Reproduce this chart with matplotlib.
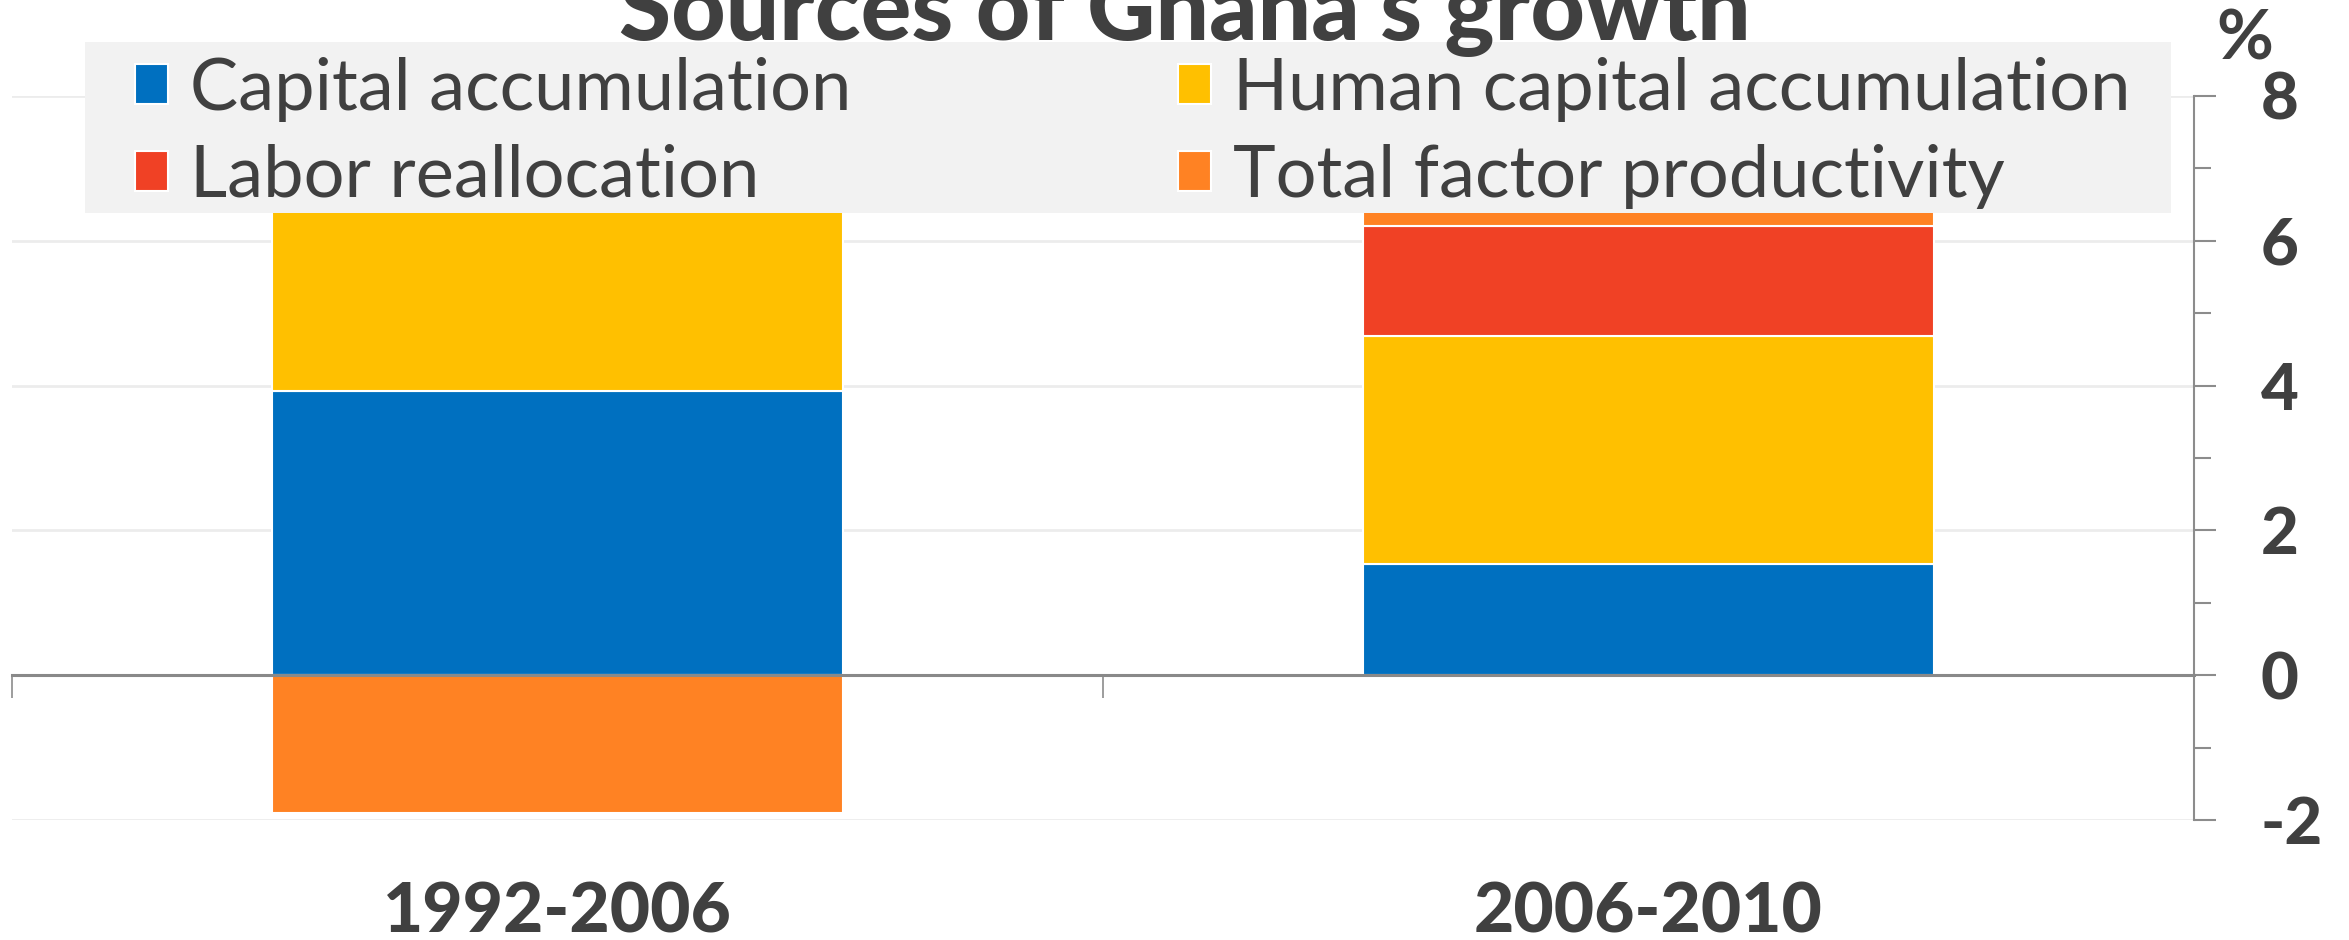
import numpy as np
import matplotlib
matplotlib.use("Agg")
import matplotlib.pyplot as plt
from matplotlib.patches import Rectangle

plt.rcParams["font.family"] = ["Lato", "DejaVu Sans"]
plt.rcParams["axes.unicode_minus"] = False

# data (percentage points of growth)
periods = ["1992-2006", "2006-2010"]
series = ["Capital accumulation", "Human capital accumulation",
          "Labor reallocation", "Total factor productivity"]
capital = [3.92, 1.53]
human_capital = [2.6, 3.15]
labor = [0.3, 1.52]
tfp = [-1.9, 0.3]
colors = ["#0070c0", "#ffc000", "#f04125", "#ff8223"]

TEXT = "#404040"
AXIS = "#8c8c8c"
W, H = 2349, 940

fig = plt.figure(figsize=(W / 100, H / 100), dpi=100)
ax = fig.add_axes([12 / W, 1 - 820 / H, (2194 - 12) / W, (820 - 96) / H])

x = np.arange(len(periods))
pos = np.zeros(len(periods))
neg = np.zeros(len(periods))
for name, vals, c in zip(series, [capital, human_capital, labor, tfp], colors):
    vals = np.array(vals)
    bottom = np.where(vals >= 0, pos, neg)
    ax.bar(x, vals, 0.524, bottom=bottom, color=c, edgecolor="white",
           linewidth=1.5, label=name, zorder=2)
    pos = pos + np.clip(vals, 0, None)
    neg = neg + np.clip(vals, None, 0)

ax.set_xlim(-0.5, 1.5)
ax.set_ylim(-2, 8)

# right-hand value axis
ax.yaxis.tick_right()
ax.set_yticks(range(-2, 9, 2))
ax.set_yticks(range(-1, 8, 2), minor=True)
ax.tick_params(axis="y", which="major", length=16, width=1.5, color=AXIS,
               pad=32, labelsize=47, labelcolor=TEXT)
ax.tick_params(axis="y", which="minor", length=12, width=1.5, color=AXIS)
for lab in ax.get_yticklabels():
    lab.set_fontweight("black")

# category boundaries on the zero line
ax.set_xticks([-0.5, 0.5, 1.5])
ax.set_xticklabels([])
ax.tick_params(axis="x", length=16.5, width=1.2, color=AXIS)

ax.spines["left"].set_visible(False)
ax.spines["top"].set_visible(False)
ax.spines["right"].set_color(AXIS)
ax.spines["right"].set_linewidth(1.5)
ax.spines["bottom"].set_position(("data", 0))
ax.spines["bottom"].set_color("#898989")
ax.spines["bottom"].set_linewidth(2.2)
ax.spines["bottom"].set_zorder(3)

ax.grid(axis="y", which="major", color="#ececec", linewidth=2)
ax.set_axisbelow(True)

for xi, p in zip(x, periods):
    ax.text(xi, -0.128, p, transform=ax.get_xaxis_transform(), ha="center",
            va="center", fontsize=50, fontweight="black", color=TEXT)

# legend on a light grey panel
fig.add_artist(Rectangle((85 / W, 1 - 213 / H), (2171 - 85) / W, (213 - 42) / H,
                         transform=fig.transFigure, facecolor="#f2f2f2",
                         edgecolor="none", zorder=1))
handles, labels = ax.get_legend_handles_labels()
for cols, left in [((0, 2), 135), ((1, 3), 1178)]:
    fig.legend([handles[i] for i in cols], [labels[i] for i in cols],
               loc="upper left", bbox_to_anchor=(left / W, 1 - 57 / H),
               frameon=False, borderpad=0, borderaxespad=0, fontsize=52,
               handlelength=0.46, handleheight=0.48, handletextpad=0.3,
               labelspacing=0.3, labelcolor=TEXT)

fig.text(1185 / W, 1 - 40 / H, "Sources of Ghana's growth", ha="center",
         va="baseline", fontsize=68, fontweight="black", color=TEXT)
fig.text(2245 / W, 1 - 40 / H, "%", ha="center", va="center", fontsize=50,
         fontweight="bold", color=TEXT)

fig.savefig("out.png", dpi=100)
